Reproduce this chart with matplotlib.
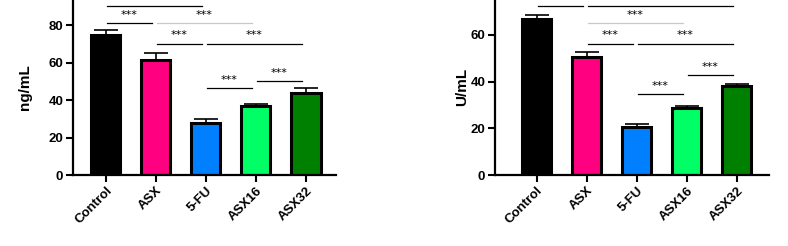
import matplotlib
matplotlib.use("Agg")
import matplotlib.pyplot as plt
import numpy as np

plt.rcParams['font.family'] = ['Liberation Sans', 'DejaVu Sans']

grupos = ["Control", "ASX", "5-FU", "ASX16", "ASX32"]
colores = ["#000000", "#ff0080", "#0080ff", "#00ff66", "#008000"]

# panel izquierdo (ng/mL)
media_ng = [74.8, 61.3, 27.9, 36.8, 43.9]
sem_ng = [2.3, 3.6, 2.1, 1.3, 2.7]
# (grupo a, grupo b, altura, gris?)
sig_ng = [(0, 2, 90.0, False), (0, 1, 80.9, False), (1, 3, 81.0, True),
          (1, 2, 70.0, False), (2, 4, 70.0, False), (2, 3, 46.4, False),
          (3, 4, 50.0, False)]

# panel derecho (U/mL)
media_u = [66.6, 50.6, 20.7, 28.5, 38.2]
sem_u = [1.7, 2.1, 1.3, 0.9, 0.6]
sig_u = [(0, 1, 72.3, False), (1, 4, 72.3, False), (1, 3, 65.1, True),
         (1, 2, 56.2, False), (2, 4, 56.2, False), (3, 4, 42.8, False),
         (2, 3, 34.5, False)]


def grafico(ax, medias, sems, sigs, ylabel, ymax, yticks, xmin, xmax):
    x = np.arange(len(grupos))
    ax.bar(x, medias, width=0.58, color=colores, edgecolor="black", linewidth=2.2, zorder=2)
    ax.errorbar(x, medias, yerr=[np.zeros(len(sems)), sems], fmt="none", ecolor="black",
                elinewidth=1.2, capsize=8.5, capthick=1.2, zorder=1)
    for a, b, h, gris in sigs:
        color = "#c8c8c8" if gris else "black"
        ax.plot([a + 0.02, b - 0.08], [h, h], color=color, lw=0.9, clip_on=False, zorder=3)
        ax.text((a + b - 0.06) / 2, h + ymax * 0.018, "***", ha="center", va="bottom",
                fontsize=8, family="DejaVu Sans", clip_on=False)
    ax.set_xlim(xmin, xmax)
    ax.set_ylim(0, ymax)
    ax.set_yticks(yticks)
    ax.set_xticks(x)
    ax.set_xticklabels(grupos, rotation=45, ha="right", rotation_mode="anchor",
                       fontsize=9.5, fontweight="bold")
    for t in ax.get_yticklabels():
        t.set_fontweight("bold")
        t.set_fontsize(9.5)
    ax.set_ylabel(ylabel, fontsize=11, fontweight="bold")
    ax.spines["top"].set_visible(False)
    ax.spines["right"].set_visible(False)
    ax.spines["left"].set_linewidth(1.6)
    ax.spines["bottom"].set_linewidth(1.6)
    ax.tick_params(axis="both", width=1.5, length=5, pad=2)


fig = plt.figure(figsize=(7.88, 2.46), dpi=100)
ax1 = fig.add_axes([0.0926, 0.2886, 0.3338, 0.7622])
ax2 = fig.add_axes([0.6282, 0.2886, 0.3481, 0.7600])

grafico(ax1, media_ng, sem_ng, sig_ng, "ng/mL", 100, [0, 20, 40, 60, 80], -0.66, 4.6)
grafico(ax2, media_u, sem_u, sig_u, "U/mL", 80, [0, 20, 40, 60], -0.83, 4.65)
ax1.yaxis.set_label_coords(-0.155, 0.47)
ax2.yaxis.set_label_coords(-0.095, 0.47)

fig.savefig("out.png", dpi=100)
